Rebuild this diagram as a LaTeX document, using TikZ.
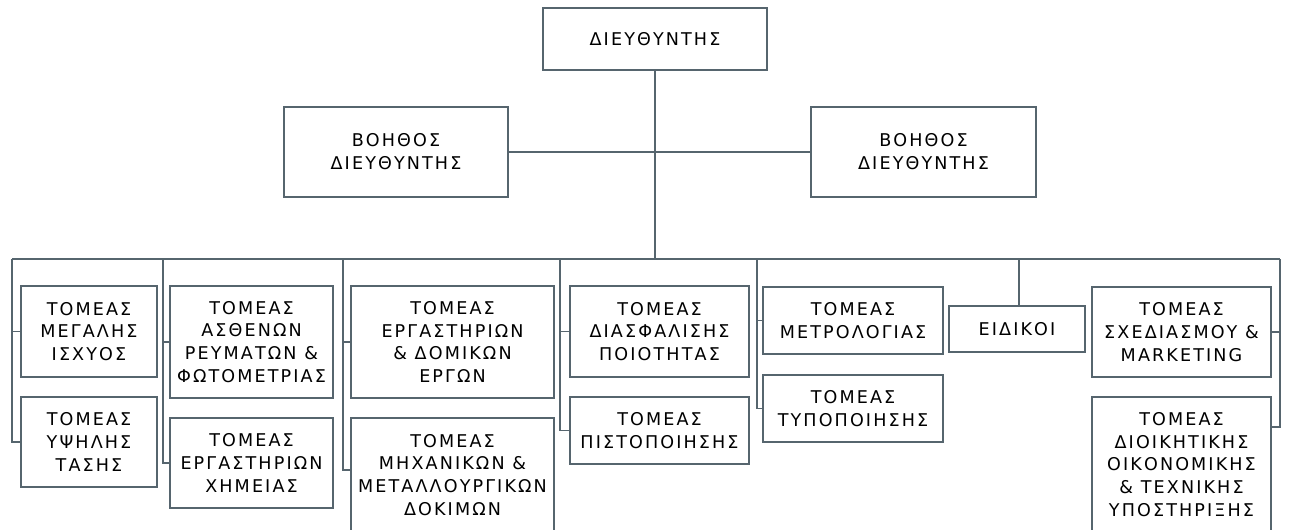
\documentclass[tikz,border=0pt]{standalone}
\usepackage{fontspec}
\setmainfont{DejaVu Sans}[LetterSpace=12]
\usepackage{tikz}
\usetikzlibrary{positioning}

\definecolor{boxline}{HTML}{56656E}

\tikzset{
	dept/.style={draw=boxline, line width=1.1pt, align=center, inner sep=1pt,
		font=\fontsize{10}{13}\selectfont},
	link/.style={draw=boxline, line width=1.1pt}
}

\begin{document}
\begin{tikzpicture}[x=0.02cm, y=-0.02cm]
			\path[use as bounding box, clip] (0,0) rectangle (1290,530);
			\fill[white] (0,0) rectangle (1290,530);
			
			% Director and assistants
			\node[dept, minimum width=4.48cm, minimum height=1.24cm] (dir) at (655,39) {ΔΙΕΥΘΥΝΤΗΣ};
			\node[dept, minimum width=4.48cm, minimum height=1.8cm] (bl) at (396,152) {ΒΟΗΘΟΣ\\ΔΙΕΥΘΥΝΤΗΣ};
			\node[dept, minimum width=4.5cm, minimum height=1.8cm] (br) at (923.5,152) {ΒΟΗΘΟΣ\\ΔΙΕΥΘΥΝΤΗΣ};
			
			% Main bus
			\coordinate (sA) at (12,259);
			\coordinate (sB) at (163,259);
			\coordinate (sC) at (343,259);
			\coordinate (sD) at (560,259);
			\coordinate (sE) at (757,259);
			\coordinate (sS) at (1019,259);
			\coordinate (sF) at (1280,259);
			\draw[link] (sA) -- (sF);
			\draw[link] (dir.south) -- (dir.south |- sA);
			\draw[link] (bl.east) -- (br.west);
			
			% First column
			\node[dept, minimum width=2.72cm, minimum height=1.82cm] (a1) at (89,331.5) {ΤΟΜΕΑΣ\\ΜΕΓΑΛΗΣ\\ΙΣΧΥΟΣ};
			\node[dept, minimum width=2.72cm, minimum height=1.8cm] (a2) at (89,442) {ΤΟΜΕΑΣ\\ΥΨΗΛΗΣ\\ΤΑΣΗΣ};
			\draw[link] (sA) |- (a2.west);
			\draw[link] (a1.west) -- (a1.west -| sA);
			
			% Second column
			\node[dept, minimum width=3.26cm, minimum height=2.24cm] (b1) at (251.5,342) {ΤΟΜΕΑΣ\\ΑΣΘΕΝΩΝ\\ΡΕΥΜΑΤΩΝ \&\\ΦΩΤΟΜΕΤΡΙΑΣ};
			\node[dept, minimum width=3.26cm, minimum height=1.8cm] (b2) at (251.5,463) {ΤΟΜΕΑΣ\\ΕΡΓΑΣΤΗΡΙΩΝ\\ΧΗΜΕΙΑΣ};
			\draw[link] (sB) |- (b2.west);
			\draw[link] (b1.west) -- (b1.west -| sB);
			
			% Third column
			\node[dept, minimum width=4.06cm, minimum height=2.24cm] (c1) at (452.5,342) {ΤΟΜΕΑΣ\\ΕΡΓΑΣΤΗΡΙΩΝ\\\& ΔΟΜΙΚΩΝ\\ΕΡΓΩΝ};
			\node[dept, minimum width=4.06cm, minimum height=2.28cm] (c2) at (452.5,475) {ΤΟΜΕΑΣ\\ΜΗΧΑΝΙΚΩΝ \&\\ΜΕΤΑΛΛΟΥΡΓΙΚΩΝ\\ΔΟΚΙΜΩΝ};
			\coordinate (c2in) at ([yshift=0.1cm]c2.west);
			\draw[link] (sC) |- (c2in);
			\draw[link] (c1.west) -- (c1.west -| sC);
			
			% Fourth column
			\node[dept, minimum width=3.58cm, minimum height=1.82cm] (d1) at (659.5,331.5) {ΤΟΜΕΑΣ\\ΔΙΑΣΦΑΛΙΣΗΣ\\ΠΟΙΟΤΗΤΑΣ};
			\node[dept, minimum width=3.58cm, minimum height=1.34cm] (d2) at (659.5,430.5) {ΤΟΜΕΑΣ\\ΠΙΣΤΟΠΟΙΗΣΗΣ};
			\draw[link] (sD) |- (d2.west);
			\draw[link] (d1.west) -- (d1.west -| sD);
			
			% Fifth column
			\node[dept, minimum width=3.6cm, minimum height=1.34cm] (e1) at (853,320.5) {ΤΟΜΕΑΣ\\ΜΕΤΡΟΛΟΓΙΑΣ};
			\node[dept, minimum width=3.6cm, minimum height=1.34cm] (e2) at (853,408.5) {ΤΟΜΕΑΣ\\ΤΥΠΟΠΟΙΗΣΗΣ};
			\draw[link] (sE) |- (e2.west);
			\draw[link] (e1.west) -- (e1.west -| sE);
			
			% Specialists
			\node[dept, minimum width=2.72cm, minimum height=0.92cm] (eid) at (1017,329) {ΕΙΔΙΚΟΙ};
			\draw[link] (sS) -- (sS |- eid.north);
			
			% Last column
			\node[dept, minimum width=3.58cm, minimum height=1.8cm] (f1) at (1181.5,332) {ΤΟΜΕΑΣ\\ΣΧΕΔΙΑΣΜΟΥ \&\\MARKETING};
			\node[dept, minimum width=3.58cm, minimum height=2.7cm] (f2) at (1181.5,464.5) {ΤΟΜΕΑΣ\\ΔΙΟΙΚΗΤΙΚΗΣ\\ΟΙΚΟΝΟΜΙΚΗΣ\\\& ΤΕΧΝΙΚΗΣ\\ΥΠΟΣΤΗΡΙΞΗΣ};
			\coordinate (f2in) at ([yshift=-0.62cm]f2.north east);
			\draw[link] (sF) |- (f2in);
			\draw[link] (f1.east) -- (f1.east -| sF);
		\end{tikzpicture}
\end{document}
